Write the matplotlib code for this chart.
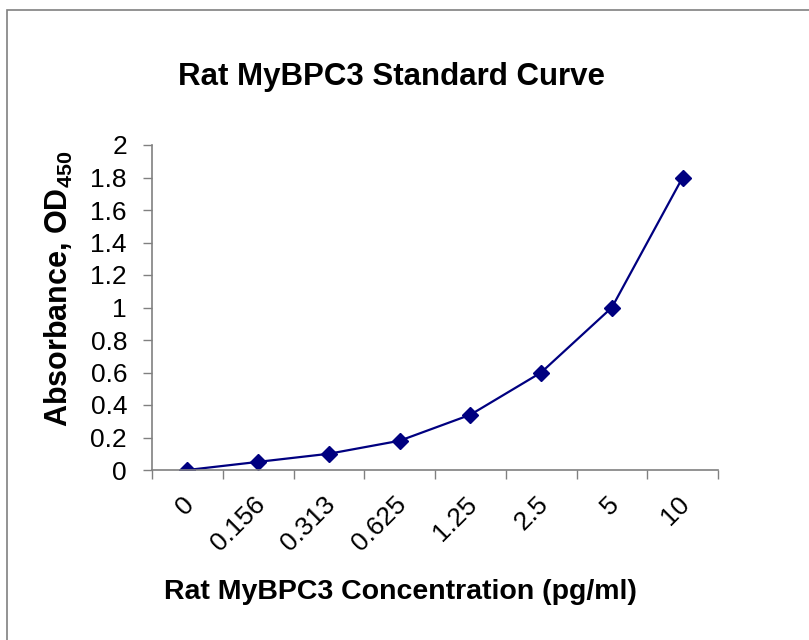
import matplotlib
matplotlib.use("Agg")
import matplotlib.pyplot as plt
import matplotlib.transforms as mtransforms
from matplotlib.patches import Rectangle
import numpy as np

categories = ["0", "0.156", "0.313", "0.625", "1.25", "2.5", "5", "10"]
absorbance = [0.0, 0.05, 0.10, 0.18, 0.34, 0.60, 1.00, 1.80]
y_ticks = [0, 0.2, 0.4, 0.6, 0.8, 1, 1.2, 1.4, 1.6, 1.8, 2]
y_tick_labels = ["0", "0.2", "0.4", "0.6", "0.8", "1", "1.2", "1.4", "1.6", "1.8", "2"]

plt.rcParams['font.family'] = ['Liberation Sans', 'DejaVu Sans']
plt.rcParams['mathtext.fontset'] = 'custom'
plt.rcParams['mathtext.rm'] = 'Liberation Sans:bold'
plt.rcParams['mathtext.bf'] = 'Liberation Sans:bold'

W, H = 809, 640
fig = plt.figure(figsize=(W / 100, H / 100), dpi=100)

# outer border
fig.patches.append(Rectangle((7 / W, 0 - 0.05), 1.2, (H - 10) / H + 0.05,
                             transform=fig.transFigure, fill=False,
                             edgecolor='#808080', linewidth=1.2))

ax = fig.add_axes([152 / W, (H - 470) / H, (718 - 152) / W, (470 - 145) / H])
x = np.arange(len(categories))
ax.plot(x, absorbance, color='#000080', linewidth=1.6, marker='D', markersize=8,
        markerfacecolor='#000080', markeredgecolor='#000080')

ax.set_xlim(-0.5, len(categories) - 0.5)
ax.set_ylim(0, 2)
ax.set_yticks(y_ticks)
ax.set_yticklabels(y_tick_labels, fontsize=19)
ax.set_xticks(np.arange(len(categories) + 1) - 0.5)
ax.set_xticklabels([])
ax.set_xticks(x, minor=True)
ax.set_xticklabels(categories, minor=True, fontsize=19, rotation=45,
                   ha='right', va='center', rotation_mode='anchor')
ax.tick_params(axis='x', which='minor', length=0, pad=22)
offset = mtransforms.ScaledTranslation(3 / 100, 0, fig.dpi_scale_trans)
for lbl in ax.xaxis.get_minorticklabels():
    lbl.set_transform(lbl.get_transform() + offset)
ax.tick_params(axis='both', which='major', direction='out', length=6.5, color='#808080', width=1)
ax.tick_params(axis='y', pad=11.5)

for s in ['top', 'right']:
    ax.spines[s].set_visible(False)
for s in ['left', 'bottom']:
    ax.spines[s].set_color('#808080')
    ax.spines[s].set_linewidth(1.2)

fig.text(59 / W, 1 - 289 / H, r'Absorbance, OD$_{\mathbf{450}}$', fontsize=22,
         fontweight='bold', rotation=90, ha='center', va='center')
fig.text(391 / W, 1 - 77 / H, 'Rat MyBPC3 Standard Curve', fontsize=22.5, fontweight='bold',
         ha='center', va='center')
fig.text(400 / W, 1 - 592 / H, 'Rat MyBPC3 Concentration (pg/ml)', fontsize=20.5,
         fontweight='bold', ha='center', va='center')

fig.savefig('out.png', dpi=100)
